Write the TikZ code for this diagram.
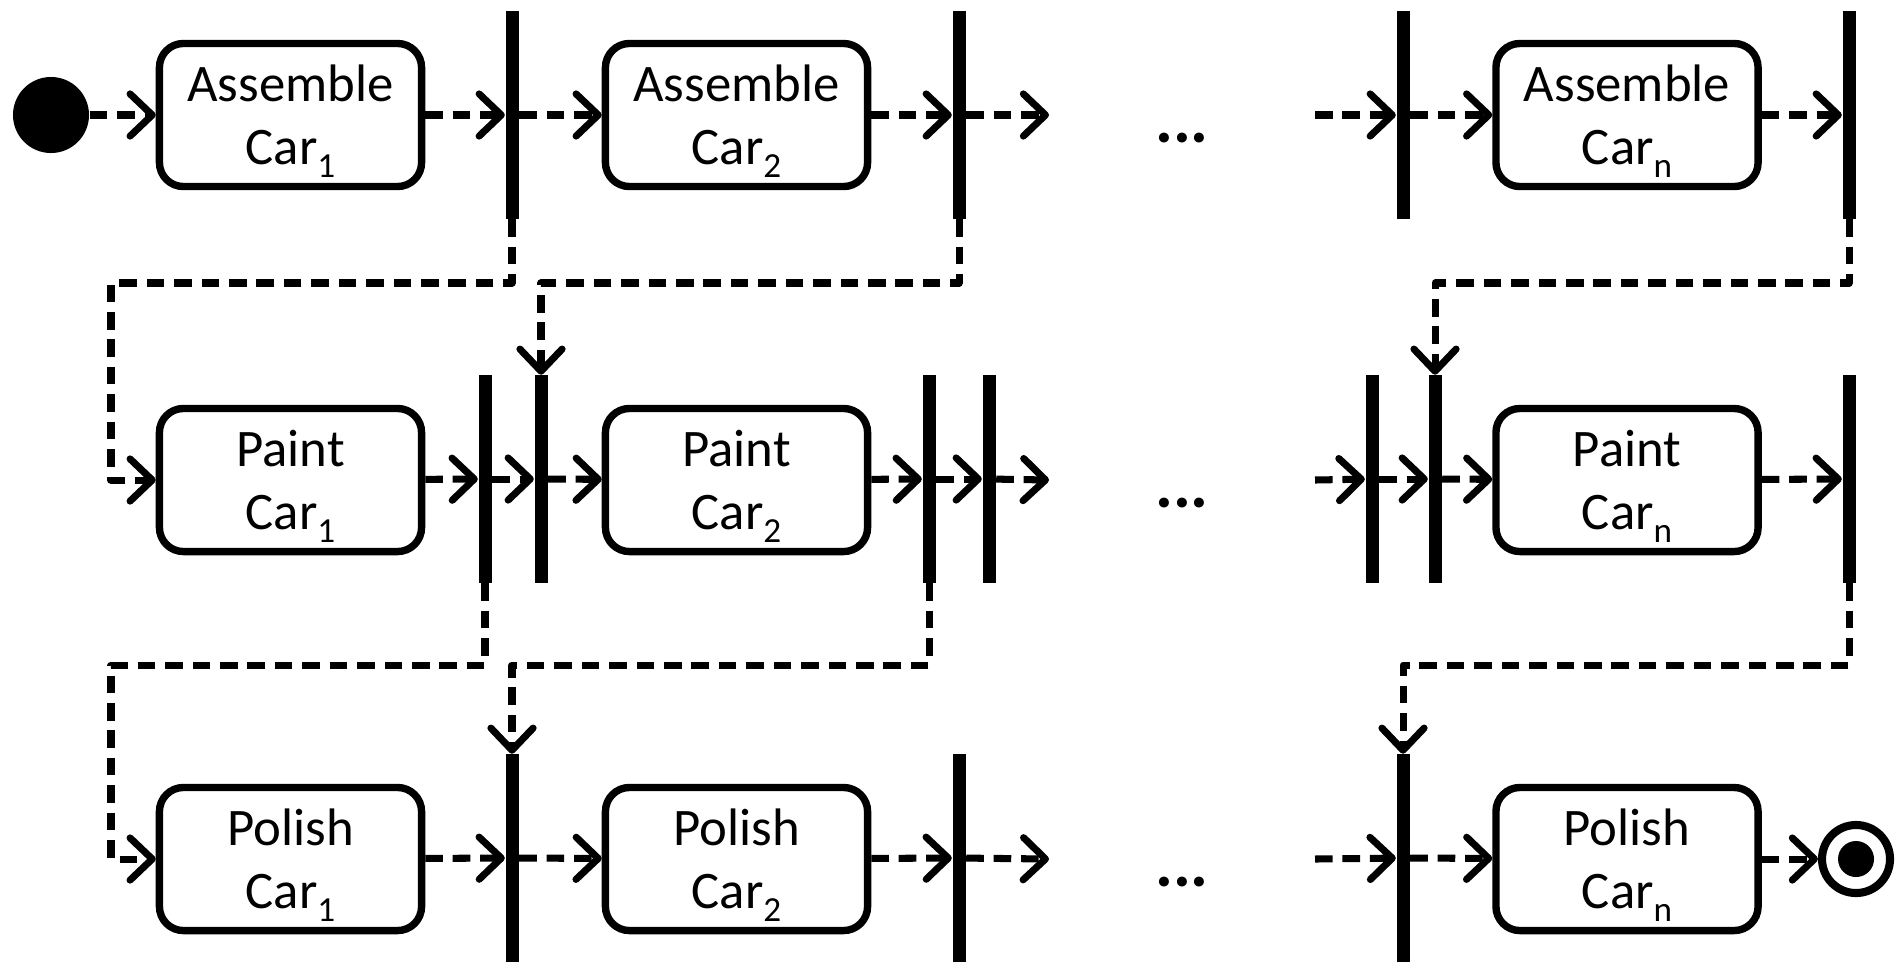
\documentclass[tikz,border=0pt]{standalone}
\usepackage{fontspec}
\setmainfont{Carlito}
\usetikzlibrary{arrows.meta}
\newcommand{\carsub}[1]{\smash{\raisebox{-3.6pt}{\fontsize{10}{10}\selectfont #1}}}

\begin{document}
\begin{tikzpicture}[
  x=0.01cm,
  y=-0.01cm,
  every node/.style={font=\fontsize{15}{18}\selectfont},
  activity/.style={draw, line width=2.1pt, rounded corners=0.24cm,
                   minimum width=2.62cm, minimum height=1.43cm,
                   align=center, inner sep=0pt},
  syncbar/.style={fill, inner sep=0pt, minimum width=0.13cm,
                  minimum height=2.07cm},
  flow/.style={line width=2pt, line join=round,
               dash pattern=on 5pt off 2.8pt,
               -{Straight Barb[length=6.3pt, width=12pt, round]}},
  startdot/.style={circle, fill, inner sep=0pt, minimum size=0.76cm},
  enddot/.style={circle, draw, line width=2.3pt, inner sep=0pt,
                 minimum size=0.68cm,
                 path picture={\fill (path picture bounding box.center)
                               circle (0.18cm);}},
  gap/.style={anchor=base, font=\bfseries\fontsize{19}{20}\selectfont}
]
  \useasboundingbox (0,0) rectangle (1895,963);

  %% ---- activities ---------------------------------------------------------
  \foreach \k/\x in {1/290.5, 2/736.5, n/1627} {
    \node[activity] (asm\k) at (\x,115) {Assemble\\Car\carsub{\k}};
    \node[activity] (pnt\k) at (\x,480) {Paint\\Car\carsub{\k}};
    \node[activity] (pol\k) at (\x,859) {Polish\\Car\carsub{\k}};
  }

  \node[startdot] (start) at (51,115) {};
  \node[enddot]   (stop)  at (1856,859) {};

  %% ---- fork / join bars ---------------------------------------------------
  \node[syncbar] (fa1)   at (512,115)  {};
  \node[syncbar] (fa2)   at (959,115)  {};
  \node[syncbar] (fan)   at (1403,115) {};
  \node[syncbar] (faend) at (1849,115) {};

  \node[syncbar] (fp1)   at (485,479)  {};
  \node[syncbar] (jp2)   at (541,479)  {};
  \node[syncbar] (fp2)   at (929,479)  {};
  \node[syncbar] (jp3)   at (989,479)  {};
  \node[syncbar] (fpk)   at (1372,479) {};
  \node[syncbar] (jpn)   at (1435,479) {};
  \node[syncbar] (fpend) at (1849,479) {};

  \node[syncbar] (jl2)   at (512,858)  {};
  \node[syncbar] (jl3)   at (959,858)  {};
  \node[syncbar] (jln)   at (1403,858) {};

  %% ---- open ends and the dots between them --------------------------------
  \foreach \r/\y in {a/115, p/480, l/859} {
    \coordinate (\r out) at (1049,\y);
    \coordinate (\r in)  at (1315,\y);
    \node[gap] (\r gap) at (1182,\y+27) {...};
  }
  \coordinate (laneA) at (111,283);
  \coordinate (laneP) at (111,665);

  %% ---- row of assembly ----------------------------------------------------
  \draw[flow] (start) -- (asm1);
  \draw[flow] (asm1) -- (fa1);
  \draw[flow] (fa1) -- (asm2);
  \draw[flow] (asm2) -- (fa2);
  \draw[flow] (fa2) -- (aout);
  \draw[flow] (ain) -- (fan);
  \draw[flow] (fan) -- (asmn);
  \draw[flow] (asmn) -- (faend);

  %% ---- row of painting ----------------------------------------------------
  \draw[flow] (pnt1) -- (fp1);
  \draw[flow] (fp1) -- (jp2);
  \draw[flow] (jp2) -- (pnt2);
  \draw[flow] (pnt2) -- (fp2);
  \draw[flow] (fp2) -- (jp3);
  \draw[flow] (jp3) -- (pout);
  \draw[flow] (pin) -- (fpk);
  \draw[flow] (fpk) -- (jpn);
  \draw[flow] (jpn) -- (pntn);
  \draw[flow] (pntn) -- (fpend);

  %% ---- row of polishing ---------------------------------------------------
  \draw[flow] (pol1) -- (jl2);
  \draw[flow] (jl2) -- (pol2);
  \draw[flow] (pol2) -- (jl3);
  \draw[flow] (jl3) -- (lout);
  \draw[flow] (lin) -- (jln);
  \draw[flow] (jln) -- (poln);
  \draw[flow] (poln) -- (stop);

  %% ---- hand-overs between the rows ----------------------------------------
  \draw[flow] (fa1.south) |- (laneA) |- (pnt1.west);
  \draw[flow] (fa2.south) -- (fa2.south |- laneA) -| (jp2.north);
  \draw[flow] (faend.south) -- (faend.south |- laneA) -| (jpn.north);

  \draw[flow] (fp1.south) |- (laneP) |- (pol1.west);
  \draw[flow] (fp2.south) -- (fp2.south |- laneP) -| (jl2.north);
  \draw[flow] (fpend.south) -- (fpend.south |- laneP) -| (jln.north);
\end{tikzpicture}
\end{document}
